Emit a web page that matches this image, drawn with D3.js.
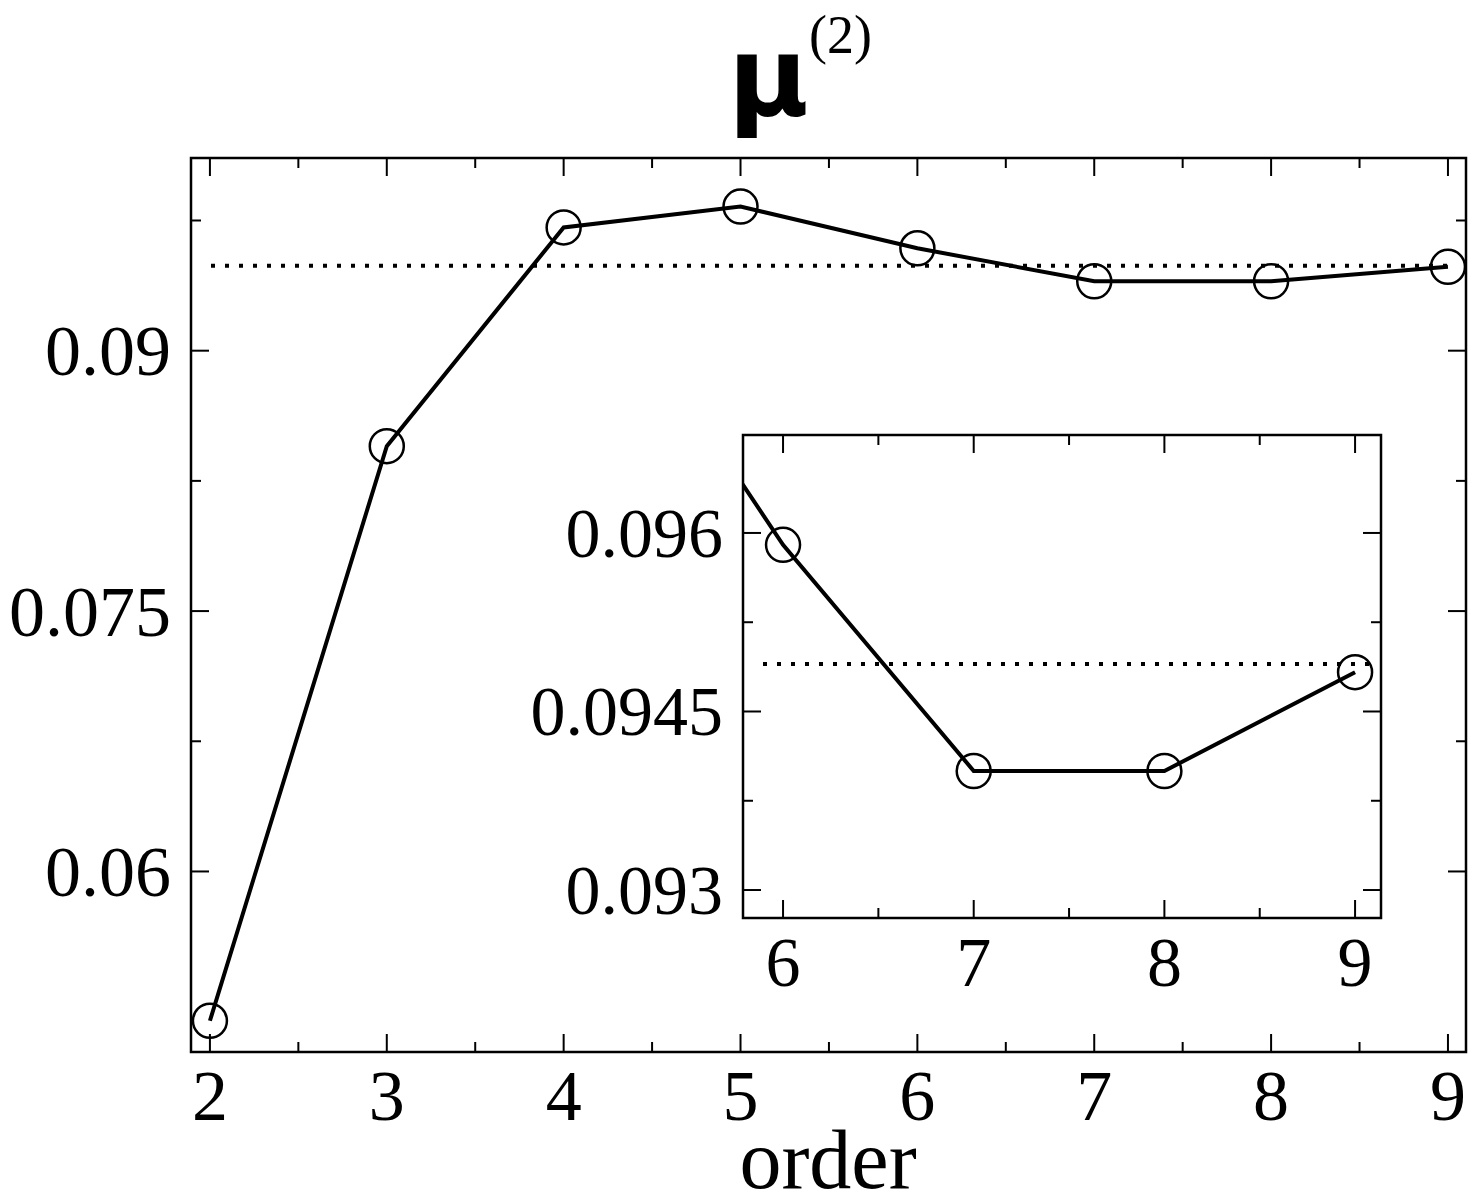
<!DOCTYPE html>
<html><head><meta charset="utf-8">
<script src="https://cdn.jsdelivr.net/npm/d3@7"></script>
<style>body{margin:0;background:#fff}text{font-family:"Liberation Serif","Times New Roman",serif}</style>
</head><body><div id="chart"></div>
<script>
// data
const orders = [2, 3, 4, 5, 6, 7, 8, 9];
const mu2 = [0.0514, 0.0845, 0.0971, 0.0983, 0.0959, 0.0940, 0.0940, 0.09483];
const limitValue = 0.09490;
const mainYTicks = [0.06, 0.075, 0.09];
const insetYTicks = [0.093, 0.0945, 0.096];
const insetXTicks = [6, 7, 8, 9];

const W = 1471, H = 1200;
const svg = d3.select('#chart').append('svg').attr('width', W).attr('height', H);

function panel(box, xd, yd, xMajor, xMinor, yMajor, yMinor, fs, id) {
  const x = d3.scaleLinear().domain(xd).range([box.x0, box.x1]);
  const y = d3.scaleLinear().domain(yd).range([box.y1, box.y0]);
  const g = svg.append('g');
  g.append('clipPath').attr('id', id).append('rect')
    .attr('x', box.x0).attr('y', box.y0).attr('width', box.x1 - box.x0).attr('height', box.y1 - box.y0);
  g.append('rect').attr('x', box.x0).attr('y', box.y0)
    .attr('width', box.x1 - box.x0).attr('height', box.y1 - box.y0)
    .attr('fill', '#fff').attr('stroke', '#000').attr('stroke-width', 2.5);

  const tk = (v, len, horiz) => {
    if (horiz) {
      [[box.y1, -len], [box.y0, len]].forEach(([b, d]) =>
        g.append('line').attr('x1', x(v)).attr('x2', x(v)).attr('y1', b).attr('y2', b + d)
          .attr('stroke', '#000').attr('stroke-width', 2));
    } else {
      [[box.x0, len], [box.x1, -len]].forEach(([b, d]) =>
        g.append('line').attr('y1', y(v)).attr('y2', y(v)).attr('x1', b).attr('x2', b + d)
          .attr('stroke', '#000').attr('stroke-width', 2));
    }
  };
  xMajor.forEach(v => tk(v, 18, true));
  xMinor.forEach(v => tk(v, 10, true));
  yMajor.forEach(v => tk(v, 18, false));
  yMinor.forEach(v => tk(v, 10, false));

  xMajor.forEach(v => g.append('text').attr('x', x(v)).attr('y', box.y1 + 68)
    .attr('text-anchor', 'middle').attr('font-size', fs).text(v));
  yMajor.forEach(v => g.append('text').attr('x', box.x0 - 20).attr('y', y(v) + fs * 0.34)
    .attr('text-anchor', 'end').attr('font-size', fs).text(v));

  const c = g.append('g').attr('clip-path', `url(#${id})`);
  c.append('line').attr('x1', box.x0 + 20).attr('x2', box.x1 - 10)
    .attr('y1', y(limitValue)).attr('y2', y(limitValue))
    .attr('stroke', '#000').attr('stroke-width', 4).attr('stroke-dasharray', '4,10');
  const pts = orders.map((o, i) => [o, mu2[i]]);
  c.append('path').datum(pts)
    .attr('d', d3.line().x(d => x(d[0])).y(d => y(d[1])))
    .attr('fill', 'none').attr('stroke', '#000').attr('stroke-width', 4);
  c.selectAll('circle.m').data(pts.filter(d => d[0] >= xd[0] && d[0] <= xd[1])).join('circle')
    .attr('cx', d => x(d[0])).attr('cy', d => y(d[1])).attr('r', 17)
    .attr('fill', 'none').attr('stroke', '#000').attr('stroke-width', 2.5);
  return { x, y };
}

panel({ x0: 191, x1: 1466, y0: 158, y1: 1052 }, [1.893, 9.102], [0.0496, 0.1011],
  orders, d3.range(2.5, 9, 1), mainYTicks, [0.0675, 0.0825, 0.0975], 72, 'cm');
panel({ x0: 743, x1: 1381, y0: 435, y1: 918 }, [5.79, 9.136], [0.092765, 0.096823],
  insetXTicks, [6.5, 7.5, 8.5], insetYTicks, [0.09375, 0.09525], 70, 'ci');

svg.append('text').attr('x', 828).attr('y', 1188).attr('text-anchor', 'middle')
  .attr('font-size', 84).text('order');
const t = svg.append('text').attr('x', 800).attr('y', 115).attr('text-anchor', 'middle')
  .attr('font-size', 110).attr('font-weight', 'bold');
t.append('tspan').attr('font-family', 'DejaVu Sans').text('μ');
t.append('tspan').attr('font-size', 54).attr('font-weight', 'normal').attr('dy', -62).text('(2)');
</script></body></html>
